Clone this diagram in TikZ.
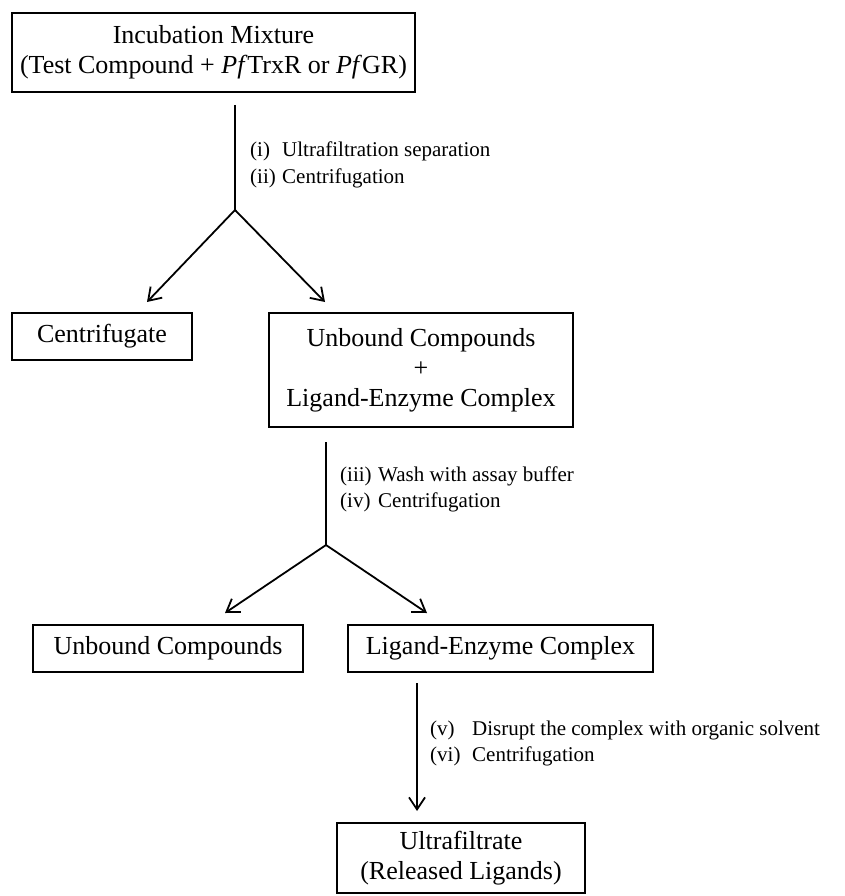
\documentclass[tikz,border=0pt]{standalone}
\usepackage{fontspec}
\setmainfont{Liberation Serif}
\usetikzlibrary{arrows.meta}
\begin{document}
\begin{tikzpicture}[x=1pt,y=-1pt,
  box/.style={draw,line width=1.8pt,inner sep=0pt,align=center,
    font=\fontsize{26}{30}\selectfont},
  conn/.style={line width=1.8pt},
  arr/.style={line width=1.8pt,-{Straight Barb[length=12pt,width=16pt,line width=1.8pt]}},
  steptext/.style={anchor=base west,align=left,inner sep=0pt,
    font=\fontsize{21}{26}\selectfont}]
\useasboundingbox (0,0) rectangle (845,896);
\fill[white] (0,0) rectangle (845,896);

\node[box,minimum width=403pt,minimum height=79pt] (inc) at (213.5,52.5)
  {Incubation Mixture\\(Test Compound + \textit{Pf}TrxR or \textit{Pf}GR)};
\node[box,minimum width=180pt,minimum height=47pt] (cen) at (102,336.5) {Centrifugate};
\node[box,minimum width=304pt,minimum height=114pt] (ul) at (421,370)
  {Unbound Compounds\\+\\Ligand-Enzyme Complex};
\node[box,minimum width=270pt,minimum height=47pt] (unb) at (168,648.5) {Unbound Compounds};
\node[box,minimum width=305pt,minimum height=47pt] (lig) at (500.5,648.5) {Ligand-Enzyme Complex};
\node[box,minimum width=248pt,minimum height=70pt] (ult) at (461,858)
  {Ultrafiltrate\\(Released Ligands)};

\coordinate (s1) at (235,105);
\coordinate (j1) at (235,210);
\coordinate (a1) at (147,302);
\coordinate (b1) at (325,302);
\coordinate (s2) at (326,442);
\coordinate (j2) at (326,545);
\coordinate (a2) at (225,613);
\coordinate (b2) at (427,613);
\coordinate (s3) at (417,683);
\coordinate (e3) at (417,811);

\draw[conn] (s1) -- (j1);
\draw[arr] (j1) -- (a1);
\draw[arr] (j1) -- (b1);
\draw[conn] (s2) -- (j2);
\draw[arr] (j2) -- (a2);
\draw[arr] (j2) -- (b2);
\draw[arr] (s3) -- (e3);

\node[steptext] (t1) at (250,183)
  {\makebox[32pt][l]{(i)}Ultrafiltration separation\\\makebox[32pt][l]{(ii)}Centrifugation};
\node[steptext] (t2) at (340,507)
  {\makebox[38pt][l]{(iii)}Wash with assay buffer\\\makebox[38pt][l]{(iv)}Centrifugation};
\node[steptext] (t3) at (430,761)
  {\makebox[42pt][l]{(v)}Disrupt the complex with organic solvent\\\makebox[42pt][l]{(vi)}Centrifugation};
\end{tikzpicture}
\end{document}
